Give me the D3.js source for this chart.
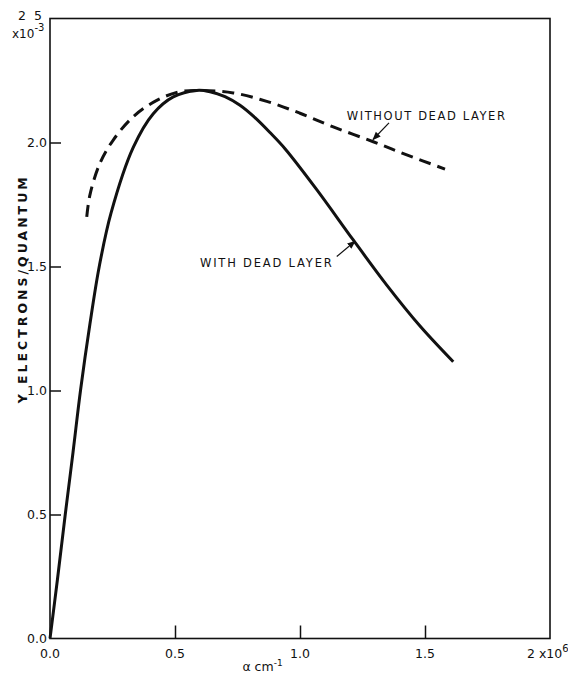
<!DOCTYPE html>
<html>
<head>
<meta charset="utf-8">
<script src="https://cdn.jsdelivr.net/npm/d3@7"></script>
<style>
body { margin: 0; background: #fff; }
text { font-family: "DejaVu Sans", sans-serif; fill: #111; }
</style>
</head>
<body>
<div id="main"></div>
<script>
var width = 568;
var height = 673;
var margin = {t: 18.5, r: 18, b: 34.5, l: 50};

// curve with dead layer (alpha in 1e6 cm^-1, yield in 1e-3)
var withX = [0, 0.03, 0.061, 0.092, 0.122, 0.16, 0.197, 0.244, 0.333, 0.413, 0.493, 0.587, 0.64, 0.7, 0.76, 0.82, 0.88, 0.94, 1.067, 1.213, 1.347, 1.48, 1.613];
var withY = [0, 0.24, 0.5, 0.75, 1.0, 1.27, 1.5, 1.715, 1.98, 2.116, 2.184, 2.21, 2.205, 2.185, 2.15, 2.10, 2.04, 1.975, 1.81, 1.607, 1.425, 1.26, 1.116];

// curve without dead layer
var withoutX = [0.147, 0.16, 0.2, 0.253, 0.333, 0.427, 0.52, 0.6, 0.733, 0.867, 1.0, 1.133, 1.293, 1.427, 1.58];
var withoutY = [1.70, 1.79, 1.917, 2.01, 2.104, 2.17, 2.205, 2.21, 2.20, 2.166, 2.118, 2.063, 2.003, 1.95, 1.893];

var xTicks = [0, 0.5, 1.0, 1.5];
var xTickLabels = ['0.0', '0.5', '1.0', '1.5'];
var yTicks = [0, 0.5, 1.0, 1.5, 2.0];
var yTickLabels = ['0.0', '0.5', '1.0', '1.5', '2.0'];

var svg = d3.select('#main').append('svg')
    .attr('width', width)
    .attr('height', height);

var xScale = d3.scaleLinear().domain([0, 2]).range([margin.l, margin.l + 500]);
var yScale = d3.scaleLinear().domain([0, 2.5]).range([height - margin.b, height - margin.b - 620]);

// frame
svg.append('rect')
    .attr('x', xScale(0))
    .attr('y', yScale(2.5))
    .attr('width', xScale(2) - xScale(0))
    .attr('height', yScale(0) - yScale(2.5))
    .style('fill', 'none')
    .style('stroke', '#111')
    .style('stroke-width', 1.6);

// x axis, ticks pointing inward
var xAxis = d3.axisTop(xScale).tickValues(xTicks.slice(1)).tickSize(13).tickFormat('');
svg.append('g')
    .attr('transform', `translate(0, ${yScale(0)})`)
    .call(xAxis)
    .call(function(g) { g.select('.domain').remove(); })
    .selectAll('line').style('stroke', '#111').style('stroke-width', 1.5);

var yAxis = d3.axisRight(yScale).tickValues(yTicks.slice(1)).tickSize(11).tickFormat('');
svg.append('g')
    .attr('transform', `translate(${xScale(0)}, 0)`)
    .call(yAxis)
    .call(function(g) { g.select('.domain').remove(); })
    .selectAll('line').style('stroke', '#111').style('stroke-width', 1.5);

// tick labels
svg.selectAll('.xlab')
    .data(xTicks)
    .enter()
    .append('text')
    .attr('class', 'xlab')
    .attr('x', function(d) { return xScale(d); })
    .attr('y', yScale(0) + 19)
    .attr('text-anchor', 'middle')
    .style('font-size', '12.5px')
    .text(function(d, i) { return xTickLabels[i]; });

svg.selectAll('.ylab')
    .data(yTicks)
    .enter()
    .append('text')
    .attr('class', 'ylab')
    .attr('x', xScale(0) - 3)
    .attr('y', function(d) { return yScale(d); })
    .attr('dy', '0.36em')
    .attr('text-anchor', 'end')
    .style('font-size', '12.5px')
    .text(function(d, i) { return yTickLabels[i]; });

// 2 x10^6 at the right end
var xEnd = svg.append('text')
    .attr('x', xScale(2) - 23)
    .attr('y', yScale(0) + 19)
    .style('font-size', '12.5px');
xEnd.append('tspan').text('2 x10');
xEnd.append('tspan').attr('dy', -6).style('font-size', '10px').text('6');

// 2.5 x10^-3 at the top
svg.append('text')
    .attr('x', xScale(0) - 6)
    .attr('y', yScale(2.5) + 1)
    .attr('text-anchor', 'end')
    .style('font-size', '12.5px')
    .style('letter-spacing', '2px')
    .text('2 5');
var yEnd = svg.append('text')
    .attr('x', 12)
    .attr('y', yScale(2.5) + 19)
    .style('font-size', '12px');
yEnd.append('tspan').text('x10');
yEnd.append('tspan').attr('dy', -7).style('font-size', '10px').text('-3');

// axis titles
svg.append('text')
    .attr('transform', `translate(27, ${yScale(1.41)}) rotate(-90)`)
    .attr('text-anchor', 'middle')
    .style('font-size', '12.5px')
    .style('font-weight', 'bold')
    .style('letter-spacing', '3px')
    .text('Y ELECTRONS/QUANTUM');

var xTitle = svg.append('text')
    .attr('x', xScale(0.85))
    .attr('y', yScale(0) + 32)
    .attr('text-anchor', 'middle')
    .style('font-size', '12.5px');
xTitle.append('tspan').text('α cm');
xTitle.append('tspan').attr('dy', -5).style('font-size', '9px').text('-1');

// curves
var line = d3.line()
    .x(function(d) { return xScale(d[0]); })
    .y(function(d) { return yScale(d[1]); })
    .curve(d3.curveCatmullRom.alpha(0.5));

svg.append('path')
    .datum(d3.zip(withX, withY))
    .attr('d', line)
    .style('fill', 'none')
    .style('stroke', '#111')
    .style('stroke-width', 3);

svg.append('path')
    .datum(d3.zip(withoutX, withoutY))
    .attr('d', line)
    .style('fill', 'none')
    .style('stroke', '#111')
    .style('stroke-width', 3)
    .style('stroke-dasharray', '12,7');

// annotations
svg.append('defs').append('marker')
    .attr('id', 'arrow')
    .attr('viewBox', '0 0 10 10')
    .attr('refX', 9)
    .attr('refY', 5)
    .attr('markerWidth', 7)
    .attr('markerHeight', 7)
    .attr('orient', 'auto')
    .append('path')
    .attr('d', 'M0,1 L10,5 L0,9 Z')
    .style('fill', '#111');

var notes = [
    {text: 'WITHOUT DEAD LAYER', tx: 1.187, ty: 2.091, ls: 1.6, ax: [1.356, 2.079], ah: [1.292, 2.012]},
    {text: 'WITH DEAD LAYER', tx: 0.6, ty: 1.499, ls: 1.8, ax: [1.147, 1.54], ah: [1.22, 1.602]}
];

notes.forEach(function(n) {
    svg.append('text')
        .attr('x', xScale(n.tx))
        .attr('y', yScale(n.ty))
        .style('font-size', '11.5px')
        .style('letter-spacing', n.ls + 'px')
        .text(n.text);
    svg.append('line')
        .attr('x1', xScale(n.ax[0]))
        .attr('y1', yScale(n.ax[1]))
        .attr('x2', xScale(n.ah[0]))
        .attr('y2', yScale(n.ah[1]))
        .style('stroke', '#111')
        .style('stroke-width', 1.2)
        .attr('marker-end', 'url(#arrow)');
});
</script>
</body>
</html>
